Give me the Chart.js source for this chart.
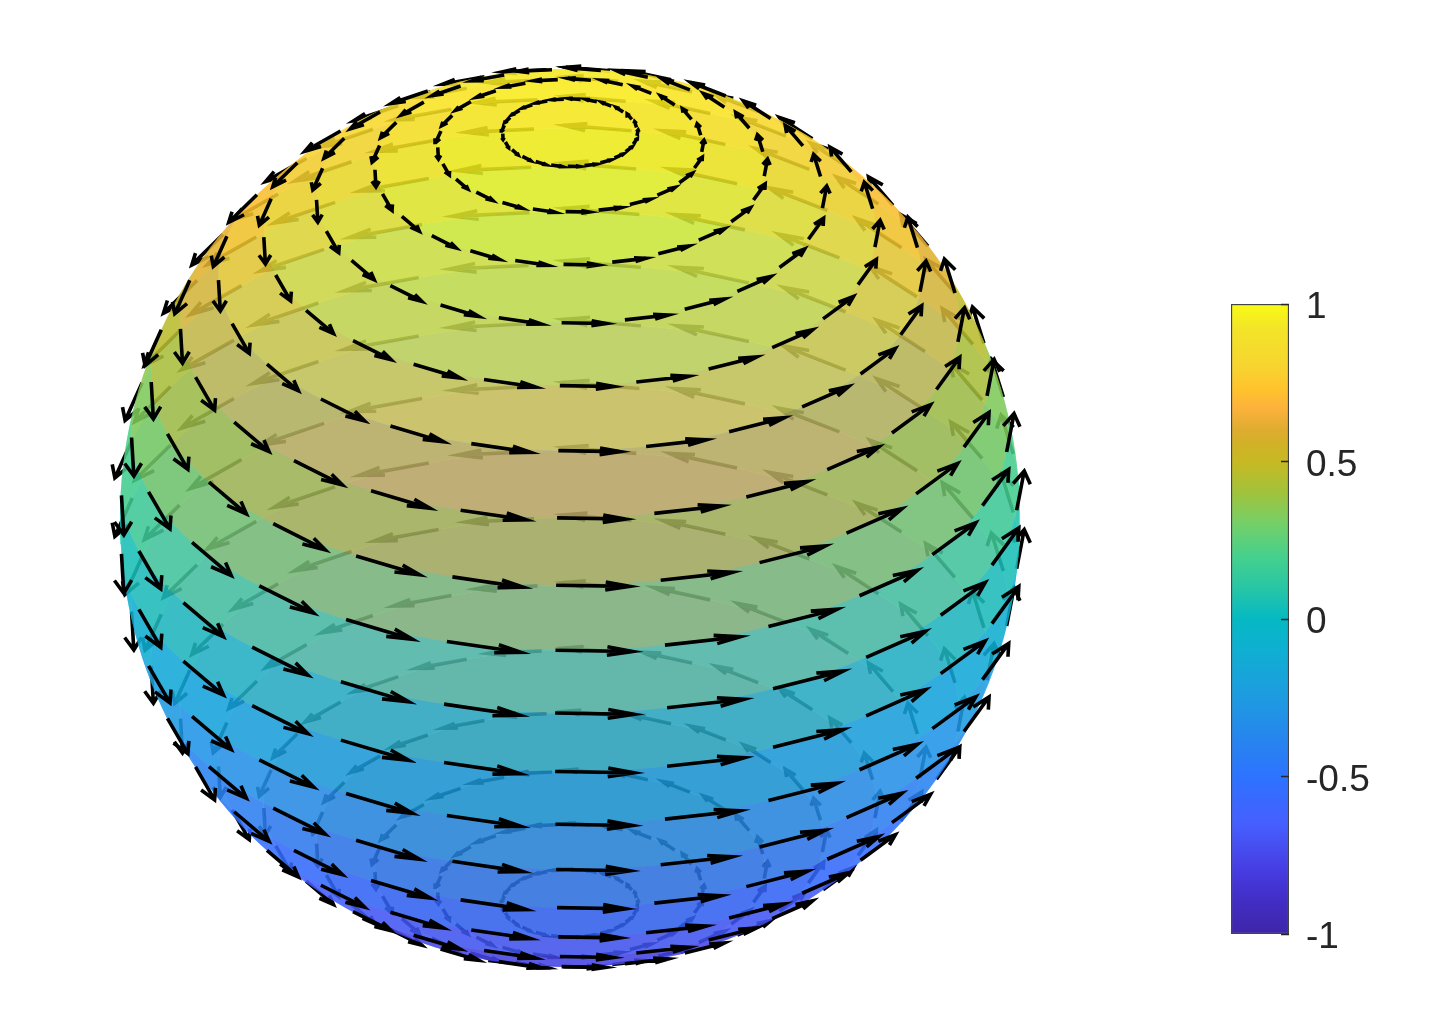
<!DOCTYPE html>
<html>
<head>
<meta charset="utf-8">
<title>Sphere field</title>
<script src="https://cdn.jsdelivr.net/npm/chart.js@4"></script>
<style>
  html, body { margin: 0; background: #fff; }
  #sphere, #bar { position: absolute; }
  #sphere { left: 0; top: 0; }
  #bar { left: 1200px; top: 280px; }
</style>
</head>
<body>
<canvas id="sphere" width="1455" height="1018"></canvas>
<canvas id="bar" width="200" height="680"></canvas>
<script>
// rings of the grid, degrees of latitude, read from the arrow rows
const latitudes = [81.4, 72.9, 64.3, 55.7, 47.1, 38.6, 30, 21.4, 12.9, 4.3,
  -4.3, -12.9, -21.4, -30, -38.6, -47.1, -55.7, -64.3, -72.9, -81.4];
// arrow tails along each ring, degrees of longitude from the viewer
const longitudes = [-174.7, -160.3, -145.9, -131.5, -117.1, -102.7, -88.3, -73.9, -59.5,
  -45.1, -30.7, -16.3, -1.9, 12.5, 26.9, 41.3, 55.7, 70.1, 84.5, 98.9, 113.3, 127.7,
  142.1, 156.5, 170.9];
const bandEdges = [90, ...latitudes, -90];

// colorbar
const colorValues = [1, 0.92, 0.8, 0.73, 0.67, 0.6, 0.55, 0.5, 0.4, 0.3, 0.2, 0.1, 0, -0.1, -0.25, -0.4, -0.5, -0.65, -0.8, -0.9, -1];
const colorStops = [
  [249, 251, 20], [243, 228, 40], [247, 212, 48], [255, 195, 45], [253, 178, 60],
  [222, 172, 48], [208, 178, 38], [200, 185, 35], [160, 195, 60], [115, 208, 105],
  [70, 208, 140], [40, 198, 165], [5, 185, 195], [15, 175, 210], [30, 155, 225],
  [40, 130, 240], [45, 115, 255], [70, 95, 255], [70, 60, 225], [65, 45, 195], [62, 38, 168]
];
const tickValues = [-1, -0.5, 0, 0.5, 1];
const tickLabels = ["-1", "-0.5", "0", "0.5", "1"];

const elevation = 30;      // view angle
const arrowScale = 0.176;  // arrow length on the equator
const headLength = 0.33;
const headWidth = 0.33;
const surfaceAlpha = 0.65;
const labelShift = 4 / 315; // tick labels sit a little under their ticks

const rad = Math.PI / 180;
const sinEl = Math.sin(elevation * rad);
const cosEl = Math.cos(elevation * rad);

function project(X, Y, Z) {
  return { x: Y, y: Z * cosEl - X * sinEl };
}
function depth(X, Z) {
  return X * cosEl + Z * sinEl;
}
function surfacePoint(lat, lon) {
  const c = Math.cos(lat * rad);
  return project(c * Math.cos(lon * rad), c * Math.sin(lon * rad), Math.sin(lat * rad));
}
function colorFor(z, alpha) {
  let i = 0;
  while (i < colorValues.length - 2 && z < colorValues[i + 1]) i++;
  const t = (colorValues[i] - z) / (colorValues[i] - colorValues[i + 1]);
  const c = colorStops[i].map((v, k) => Math.round(v + (colorStops[i + 1][k] - v) * t));
  return `rgba(${c[0]},${c[1]},${c[2]},${alpha})`;
}

// longitude where a ring meets the outline of the sphere
function limb(lat) {
  if (Math.abs(lat) >= 90 - elevation) return lat > 0 ? 180 : 0;
  return Math.acos(-Math.tan(lat * rad) * Math.tan(elevation * rad)) / rad;
}
function arc(lat, from, to) {
  const out = [];
  const n = Math.max(1, Math.ceil(Math.abs(to - from) / 3));
  for (let i = 0; i <= n; i++) out.push(surfacePoint(lat, from + (to - from) * i / n));
  return out;
}
function outline(latA, latB, side) {
  const out = [];
  for (let i = 1; i < 6; i++) {
    const lat = latA + (latB - latA) * i / 6;
    if (Math.abs(lat) < 90 - elevation) out.push(surfacePoint(lat, side * limb(lat)));
  }
  return out;
}
function bandShape(top, bottom, front) {
  const limbTop = limb(top), limbBottom = limb(bottom);
  if (front) {
    return [...arc(top, -limbTop, limbTop), ...outline(top, bottom, 1),
      ...arc(bottom, limbBottom, -limbBottom), ...outline(bottom, top, -1)];
  }
  return [...arc(top, limbTop, 360 - limbTop), ...outline(top, bottom, -1),
    ...arc(bottom, 360 - limbBottom, limbBottom), ...outline(bottom, top, 1)];
}
function bandDatasets(front, order) {
  const sets = [];
  for (let i = 0; i < bandEdges.length - 1; i++) {
    const top = bandEdges[i], bottom = bandEdges[i + 1];
    if (front && limb(top) === 0 && limb(bottom) === 0) continue;
    if (!front && limb(top) === 180 && limb(bottom) === 180) continue;
    // each band takes the colour of its upper ring
    const z = Math.sin(top * rad);
    sets.push({
      data: bandShape(top, bottom, front),
      showLine: true, fill: "shape", order: order,
      backgroundColor: colorFor(z, surfaceAlpha),
      borderWidth: 0, pointRadius: 0
    });
  }
  return sets;
}

function arrowPaths(front) {
  const out = [];
  for (const lat of latitudes) {
    for (const lon of longitudes) {
      const c = Math.cos(lat * rad), l = lon * rad;
      const X = c * Math.cos(l), Y = c * Math.sin(l), Z = Math.sin(lat * rad);
      const u = -Math.sin(l) * c * arrowScale, v = Math.cos(l) * c * arrowScale;
      if ((depth(X + u / 2, Z) > 0) !== front) continue;
      const tipX = X + u, tipY = Y + v;
      const a = headLength, b = headWidth;
      out.push(
        project(X, Y, Z),
        project(tipX, tipY, Z),
        { x: null, y: null },
        project(tipX - a * (u + b * v), tipY - a * (v - b * u), Z),
        project(tipX, tipY, Z),
        project(tipX - a * (u - b * v), tipY - a * (v + b * u), Z),
        { x: null, y: null }
      );
    }
  }
  return out;
}
function arrowDataset(front, order) {
  return {
    data: arrowPaths(front), showLine: true, order: order, spanGaps: false,
    borderColor: "#000", borderWidth: 3.6, pointRadius: 0, borderCapStyle: "butt"
  };
}

const datasets = [
  arrowDataset(true, 0),
  ...bandDatasets(true, 1),
  ...bandDatasets(false, 2),
  arrowDataset(false, 3)
];

new Chart(document.getElementById("sphere"), {
  type: "scatter",
  data: { datasets: datasets },
  options: {
    responsive: false,
    animation: false,
    devicePixelRatio: 1,
    layout: { padding: 0 },
    plugins: { legend: { display: false }, tooltip: { enabled: false } },
    elements: { line: { tension: 0 } },
    datasets: { scatter: { clip: false } },
    scales: {
      x: { type: "linear", display: false, min: -570 / 450, max: 885 / 450 },
      y: { type: "linear", display: false, min: -500 / 450, max: 518 / 450 }
    }
  }
});

new Chart(document.getElementById("bar"), {
  type: "bar",
  data: {
    labels: ["z"],
    datasets: [{
      data: [[-1, 1]],
      barPercentage: 1,
      categoryPercentage: 1,
      borderWidth: 1.5,
      borderColor: "#444",
      borderSkipped: false,
      backgroundColor(ctx) {
        const area = ctx.chart.chartArea;
        if (!area) return "#fff";
        const g = ctx.chart.ctx.createLinearGradient(0, area.top, 0, area.bottom);
        colorValues.forEach((v, i) => g.addColorStop((1 - v) / 2, colorFor(v, 1)));
        return g;
      }
    }]
  },
  options: {
    responsive: false,
    animation: false,
    devicePixelRatio: 1,
    layout: { padding: { left: 31, top: 24, bottom: 26, right: 0 } },
    plugins: { legend: { display: false }, tooltip: { enabled: false } },
    scales: {
      x: { display: false },
      // tick marks inside the bar
      y: {
        position: "right",
        min: -1,
        max: 1,
        afterBuildTicks(scale) { scale.ticks = tickValues.map(v => ({ value: v })); },
        afterFit(scale) {
          scale.width = 0;
          scale.paddingTop = 0;
          scale.paddingBottom = 0;
        },
        border: { display: false },
        grid: { drawOnChartArea: false, drawTicks: true, tickLength: -8, tickColor: "#262626", tickWidth: 1.5, z: 1 },
        ticks: { display: false }
      },
      // labels
      labels: {
        position: "right",
        min: -1 + labelShift,
        max: 1 + labelShift,
        afterBuildTicks(scale) { scale.ticks = tickValues.map(v => ({ value: v })); },
        afterFit(scale) {
          scale.width = 111;
          scale.paddingTop = 0;
          scale.paddingBottom = 0;
        },
        border: { display: false },
        grid: { display: false, drawTicks: false },
        ticks: {
          padding: 17,
          color: "#262626",
          font: { family: "'Liberation Sans'", size: 37 },
          callback(value) { return tickLabels[tickValues.indexOf(value)]; }
        }
      }
    }
  }
});
</script>
</body>
</html>
